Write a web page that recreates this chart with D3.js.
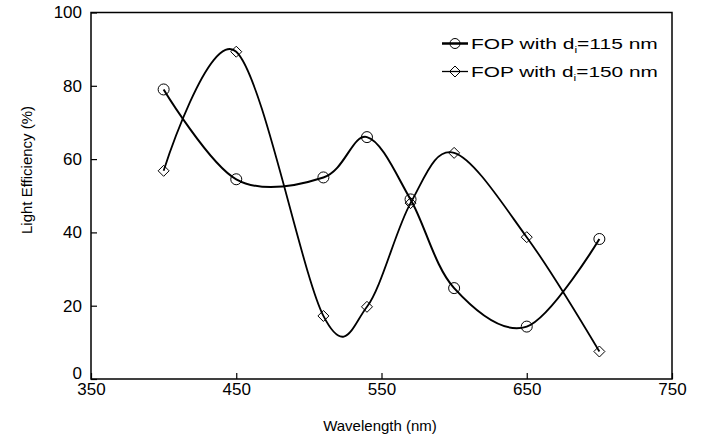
<!DOCTYPE html>
<html>
<head>
<meta charset="utf-8">
<script src="https://cdn.jsdelivr.net/npm/d3@7"></script>
<style>
body { margin: 0; background: #fff; }
text { font-family: "Liberation Sans", Arial, sans-serif; fill: #000; }
</style>
</head>
<body>
<svg id="chart" width="711" height="443"></svg>
<script>
const wavelengths = [400, 450, 510, 540, 570, 600, 650, 700];
const series115 = [79, 54.5, 55, 66, 49, 24.8, 14.3, 38.2];
const series150 = [56.8, 89.3, 17.2, 19.7, 48, 61.7, 38.7, 7.5];
const xTicks = [350, 450, 550, 650, 750];
const yTicks = [0, 20, 40, 60, 80, 100];
const seriesNames = ["FOP with d", "FOP with d"];
const seriesSubs = ["i", "i"];
const seriesSuffix = ["=115 nm", "=150 nm"];

(function () {
const svg = d3.select("#chart");
const pL = 91, pR = 672, pT = 12.5, pB = 379;
const x = d3.scaleLinear().domain([350, 750]).range([pL, pR]);
const y = d3.scaleLinear().domain([0, 100]).range([pB, pT]);

// frame
svg.append("rect").attr("x", pL).attr("y", pT)
  .attr("width", pR - pL).attr("height", pB - pT)
  .attr("fill", "none").attr("stroke", "#000").attr("stroke-width", 1.5);

// y axis ticks (inward)
const yAxis = d3.axisLeft(y).tickValues(yTicks).tickSizeInner(-6).tickSizeOuter(0).tickPadding(10);
const gy = svg.append("g").attr("transform", `translate(${pL},0)`).call(yAxis);
gy.select(".domain").remove();
gy.selectAll("line").attr("stroke", "#000").attr("stroke-width", 1.2);
gy.selectAll("text").attr("font-size", 17).attr("x", -9)
  .attr("dy", d => d === 0 ? "-0.05em" : "0.32em")
  .style("font-family", "'Liberation Sans', Arial, sans-serif");

// x axis ticks (inward)
const xAxis = d3.axisBottom(x).tickValues(xTicks).tickSizeInner(-6).tickSizeOuter(0).tickPadding(4);
const gx = svg.append("g").attr("transform", `translate(0,${pB})`).call(xAxis);
gx.select(".domain").remove();
gx.selectAll("line").attr("stroke", "#000").attr("stroke-width", 1.2);
gx.selectAll("text").attr("font-size", 17).attr("y", 4).style("font-family", "'Liberation Sans', Arial, sans-serif");

// axis titles
svg.append("text").attr("x", 380).attr("y", 431).attr("text-anchor", "middle")
  .attr("font-size", 15).text("Wavelength (nm)");
svg.append("text").attr("transform", "translate(32,170) rotate(-90)")
  .attr("text-anchor", "middle").attr("font-size", 15).text("Light Efficiency (%)");

const line = d3.line().x(d => x(d[0])).y(d => y(d[1])).curve(d3.curveCardinal.tension(0));
const d115 = wavelengths.map((w, i) => [w, series115[i]]);
const d150 = wavelengths.map((w, i) => [w, series150[i]]);

svg.append("path").attr("d", line(d150)).attr("fill", "none").attr("stroke", "#000").attr("stroke-width", 1.8);
svg.append("path").attr("d", line(d115)).attr("fill", "none").attr("stroke", "#000").attr("stroke-width", 2);

const diamond = (cx, cy, r) => `M${cx},${cy - r}L${cx + r},${cy}L${cx},${cy + r}L${cx - r},${cy}Z`;

svg.append("g").selectAll("circle").data(d115).join("circle")
  .attr("cx", d => x(d[0])).attr("cy", d => y(d[1])).attr("r", 5.5)
  .attr("fill", "none").attr("stroke", "#000").attr("stroke-width", 1);
svg.append("g").selectAll("path").data(d150).join("path")
  .attr("d", d => diamond(x(d[0]), y(d[1]), 5.5))
  .attr("fill", "none").attr("stroke", "#000").attr("stroke-width", 1);

// legend
const legY = [43.5, 71.5];
const lg = svg.append("g");
[0, 1].forEach(i => {
  lg.append("line").attr("x1", 442).attr("x2", 468).attr("y1", legY[i]).attr("y2", legY[i])
    .attr("stroke", "#000").attr("stroke-width", i === 0 ? 2.5 : 1.3);
  if (i === 0) {
    lg.append("circle").attr("cx", 455).attr("cy", legY[i]).attr("r", 5)
      .attr("fill", "none").attr("stroke", "#000").attr("stroke-width", 1);
  } else {
    lg.append("path").attr("d", diamond(455, legY[i], 5.5))
      .attr("fill", "none").attr("stroke", "#000").attr("stroke-width", 1);
  }
  const tg = lg.append("g");
  const t = tg.append("text").attr("x", 0).attr("y", 0).attr("font-size", 15.5);
  t.append("tspan").text(seriesNames[i]);
  t.append("tspan").attr("font-size", 9).attr("dy", 4).text(seriesSubs[i]);
  t.append("tspan").attr("dy", -4).text(seriesSuffix[i]);
  const w = t.node().getBBox().width;
  const sx = 187 / w;
  tg.attr("transform", `translate(471,${legY[i] + 5.5}) scale(${sx},1)`);
});
})();
</script>
</body>
</html>
